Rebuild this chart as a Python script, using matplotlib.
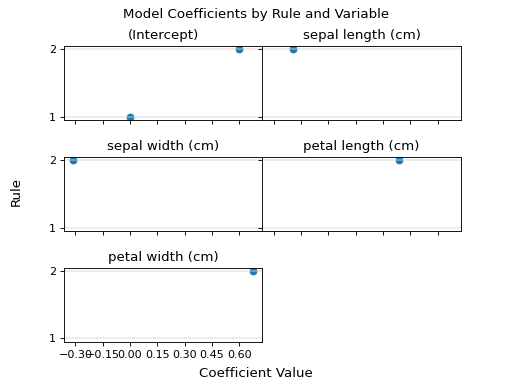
import numpy as np
from matplotlib import pyplot as plt

variables = ["(Intercept)", "sepal length (cm)", "sepal width (cm)",
             "petal length (cm)", "petal width (cm)"]
# (variable index, rule, coefficient)
var_idx = [0, 0, 1, 2, 3, 4]
rules = [1, 2, 2, 2, 2, 2]
coefs = [0.0, 0.60, -0.195, -0.313, 0.39, 0.677]

fig, axes = plt.subplots(3, 2, sharex=True, sharey=True, figsize=(6.4, 4.8), dpi=80)
axes = axes.flatten()

for i, name in enumerate(variables):
	ax = axes[i]
	x = [c for c, v in zip(coefs, var_idx) if v == i]
	y = [r for r, v in zip(rules, var_idx) if v == i]
	ax.scatter(x, y)
	ax.set_title(name)
	ax.grid(axis="y", color="lightgray", alpha=0.5, linewidth=1.5)

fig.delaxes(axes[5])
axes[0].set_yticks([1, 2])
axes[4].set_xticks(np.arange(-0.30, 0.61, 0.15))
axes[4].xaxis.set_tick_params(labelbottom=True)
axes[3].xaxis.set_tick_params(labelbottom=False)

pad = 0.05 * (max(coefs) - min(coefs))
axes[0].set_xlim(min(coefs) - pad, max(coefs) + pad)
axes[0].set_ylim(0.95, 2.05)

fig.suptitle("Model Coefficients by Rule and Variable")
fig.supxlabel("Coefficient Value", fontsize=12)
fig.supylabel("Rule", fontsize=12)
plt.subplots_adjust(wspace=0, hspace=0.5)
plt.savefig("out.png")
